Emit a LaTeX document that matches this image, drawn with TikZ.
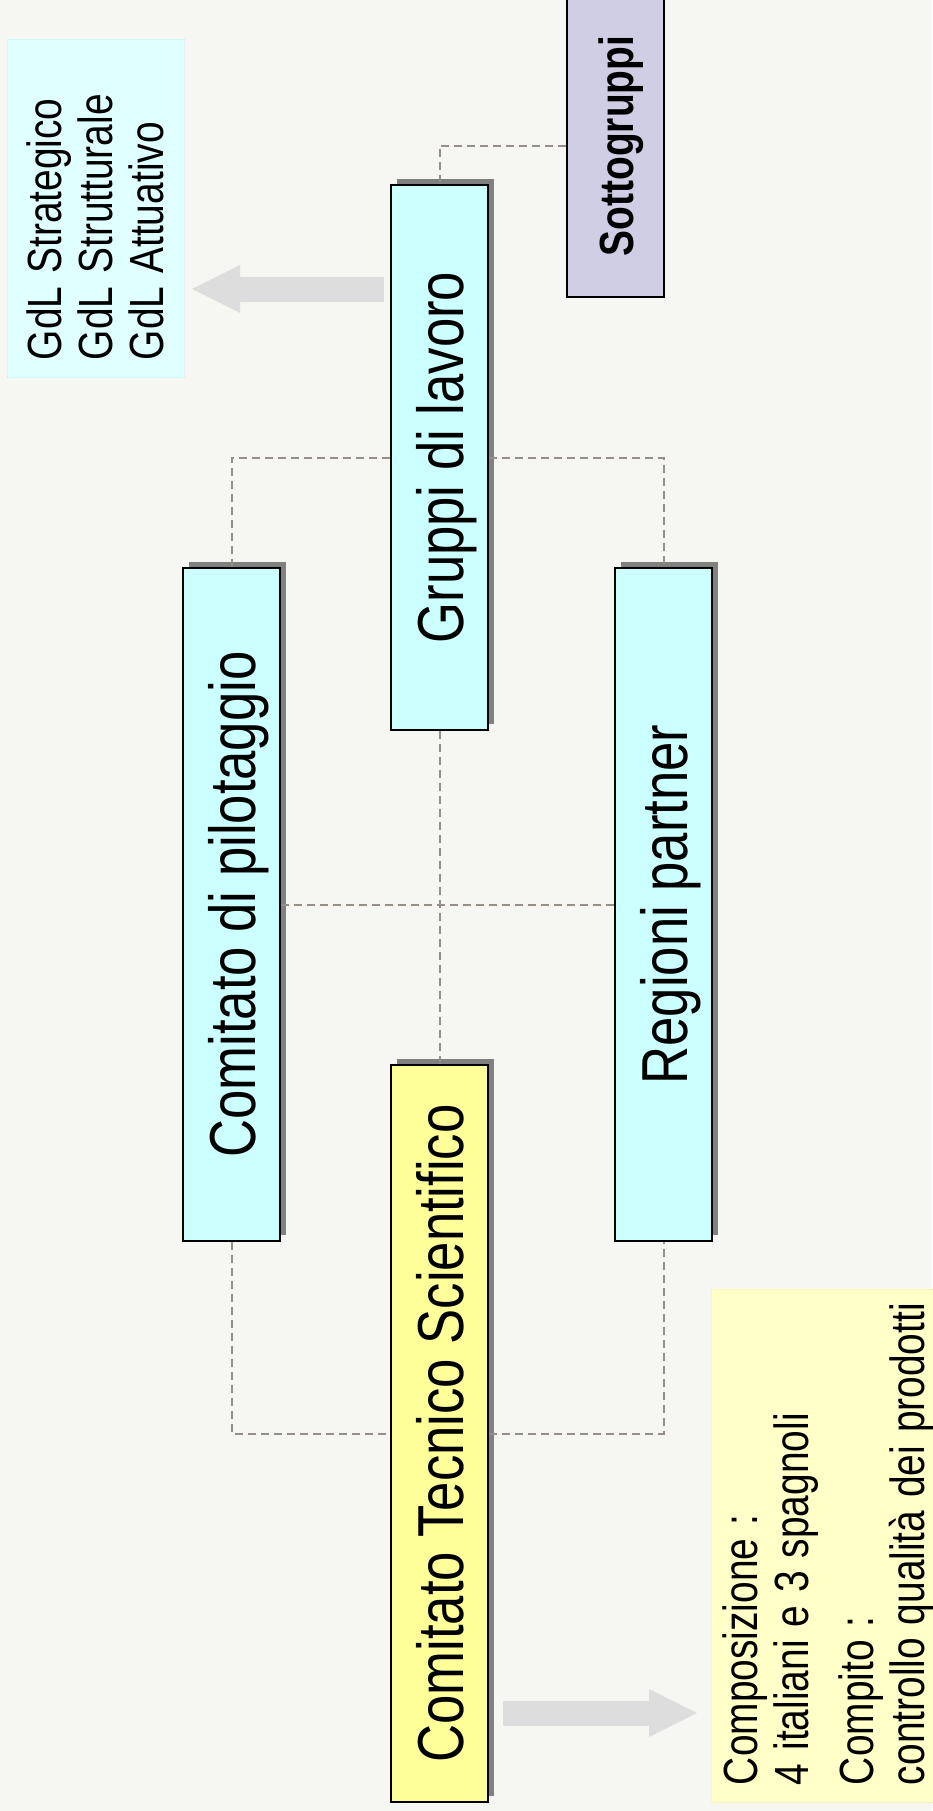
\documentclass[tikz,border=0pt]{standalone}
\usepackage{fontspec}
\setmainfont{Liberation Sans}
\usepackage{graphicx}
\usetikzlibrary{positioning,shadows,arrows.meta}

\definecolor{bgcol}{RGB}{246,246,242}
\definecolor{boxcyan}{RGB}{204,255,255}
\definecolor{ctsyellow}{RGB}{255,255,153}
\definecolor{sublilac}{RGB}{208,206,228}
\definecolor{gdlcyan}{RGB}{224,255,255}
\definecolor{gdldot}{RGB}{200,240,240}
\definecolor{noteyellow}{RGB}{255,255,200}
\definecolor{notedot}{RGB}{240,240,170}
\definecolor{arrowgray}{RGB}{221,221,221}
\definecolor{dashgray}{RGB}{150,143,135}
\definecolor{shadowgray}{RGB}{128,128,128}

\newcommand{\sq}[1]{\scalebox{0.81}[1]{#1}}

\begin{document}
\begin{tikzpicture}[x=1pt, y=-1pt,
  boxnode/.style={draw=black, line width=1.5pt, inner sep=0pt, rotate=90, minimum height=97pt},
  bignode/.style={boxnode, text height=47pt, text depth=0pt, font=\fontsize{65}{70}\selectfont,
    drop shadow={shadow xshift=6pt, shadow yshift=6pt, opacity=1, fill=shadowgray, draw=none}},
  bluenode/.style={bignode, fill=boxcyan},
  yellownode/.style={bignode, fill=ctsyellow},
  subnode/.style={boxnode, fill=sublilac, text height=35pt, text depth=0pt, font=\fontsize{48}{51}\selectfont\bfseries},
  notenode/.style={rotate=90, densely dotted, line width=1pt, inner xsep=17pt, inner ysep=0pt, align=left, font=\fontsize{48}{51}\selectfont},
  link/.style={draw=dashgray, line width=2pt, dash pattern=on 8pt off 5pt},
  bigarrow/.style={draw=arrowgray, line width=25pt, -{Triangle[length=48pt, width=48pt, line width=0pt]}}]
\path[use as bounding box, fill=bgcol] (0,0) rectangle (932,1811);
% Nodes
\node[bluenode, minimum width=673pt] (pilot) at (231.5, 904.5) {\sq{Comitato di pilotaggio}};
\node[bluenode, minimum width=545pt] (gruppi) at (439.5, 457.5) {\sq{Gruppi di lavoro}};
\node[bluenode, minimum width=673pt] (regioni) at (663.5, 904.5) {\sq{Regioni partner}};
\node[yellownode, minimum width=737pt] (cts) at (439.5, 1433.5) {\sq{Comitato Tecnico Scientifico}};
\node[subnode, minimum width=302pt] (sotto) at (615.5, 146) {\sq{Sottogruppi}};
\node[notenode, draw=gdldot, fill=gdlcyan, minimum width=337pt, minimum height=177pt, text width=303pt] (gdl) at (95.5, 208.5)
  {\sq{GdL Strategico}\\ \sq{GdL Strutturale}\\ \sq{GdL Attuativo}};
\node[notenode, draw=notedot, fill=noteyellow, minimum width=513pt, minimum height=236pt, text width=479pt] (comp) at (829, 1545.5)
  {\sq{Composizione :}\\ \sq{4 italiani e 3 spagnoli}\\[14pt] \sq{Compito :}\\ \sq{controllo qualità dei prodotti}};
% Arrows
\coordinate (grout) at (384, 289);
\coordinate (gdlin) at (192, 289);
\coordinate (ctsout) at (503, 1713);
\coordinate (compin) at (697, 1713);
\draw[bigarrow] (grout) -- (gdlin);
\draw[bigarrow] (ctsout) -- (compin);
% Links
\draw[link] (sotto.north) -| (gruppi.east);
\draw[link] (pilot.east) |- (gruppi.north);
\draw[link] (gruppi.south) -| (regioni.east);
\draw[link] (gruppi.west) -- (cts.east);
\draw[link] (pilot.south) -- (regioni.north);
\draw[link] (pilot.west) |- (cts.north);
\draw[link] (cts.south) -| (regioni.west);
\end{tikzpicture}
\end{document}
